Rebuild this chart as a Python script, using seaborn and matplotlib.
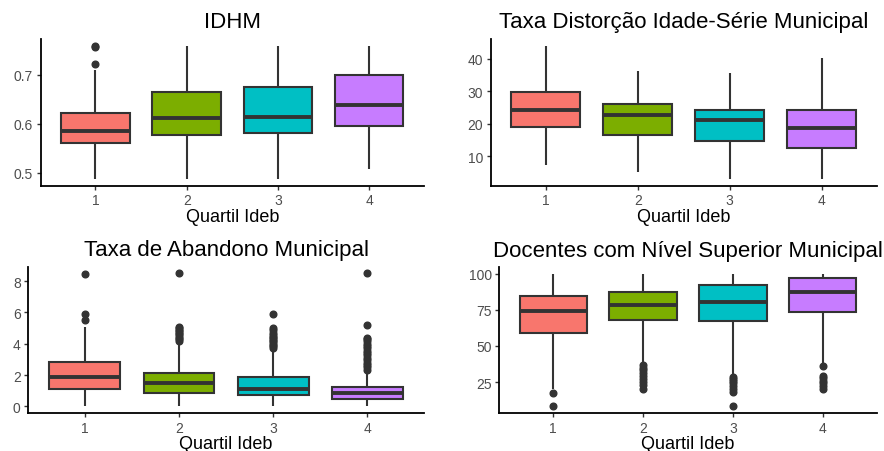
import numpy as np
import pandas as pd
import matplotlib
matplotlib.use('Agg')
import matplotlib.pyplot as plt
import seaborn as sns

sns.set_theme(style='white')
plt.rcParams['font.family'] = ['Liberation Sans', 'DejaVu Sans']

quartis = ['1', '2', '3', '4']
cores = ['#F8766D', '#7CAE00', '#00BFC4', '#C77CFF']

# IDHM
idhm_lo = [0.487, 0.487, 0.487, 0.507]
idhm_q1 = [0.560, 0.577, 0.582, 0.595]
idhm_med = [0.586, 0.611, 0.614, 0.639]
idhm_q3 = [0.623, 0.666, 0.676, 0.699]
idhm_hi = [0.711, 0.759, 0.759, 0.760]
idhm_out = [[0.722, 0.757, 0.760], [], [], []]

# Taxa Distorção Idade-Série
dist_lo = [7.2, 5.2, 2.9, 2.9]
dist_q1 = [18.9, 16.6, 14.8, 12.4]
dist_med = [24.1, 22.6, 21.1, 18.6]
dist_q3 = [29.9, 26.2, 24.2, 24.2]
dist_hi = [44.1, 36.3, 35.8, 40.2]
dist_out = [[], [], [], []]

# Taxa de Abandono
aban_lo = [0.0, 0.0, 0.0, 0.05]
aban_q1 = [1.08, 0.87, 0.70, 0.48]
aban_med = [1.90, 1.50, 1.12, 0.83]
aban_q3 = [2.82, 2.16, 1.89, 1.22]
aban_hi = [5.04, 4.05, 3.55, 2.25]
aban_out = [
    [5.5, 5.93, 8.49],
    [4.2, 4.3, 4.4, 4.5, 4.6, 4.7, 4.8, 4.9, 5.0, 5.1, 8.5],
    [3.75, 3.85, 3.95, 4.05, 4.15, 4.25, 4.35, 4.45, 4.55, 4.7, 4.85, 5.0, 5.9],
    [2.35, 2.5, 2.65, 2.8, 2.95, 3.1, 3.25, 3.4, 3.55, 3.7, 3.85, 4.0, 4.15,
     4.3, 4.4, 5.2, 8.5],
]

# Docentes com nível superior
doc_lo = [20.5, 38.5, 30.0, 38.0]
doc_q1 = [59.0, 67.9, 67.2, 73.4]
doc_med = [74.5, 78.2, 80.2, 87.7]
doc_q3 = [85.0, 87.7, 92.3, 97.3]
doc_hi = [100.0, 100.0, 100.0, 100.0]
doc_out = [
    [17.3, 8.1],
    [36.5, 35, 33, 31, 29, 27, 25, 23, 20.5],
    [28.4, 27, 25.5, 24, 22, 20, 18, 8.1],
    [35.9, 29.5, 28, 26, 24, 22, 20.5],
]


def montar(lo, q1, med, q3, hi, out, k=30):
    # rebuild a sample whose quartiles/whiskers match the read-off values
    linhas = []
    for i, q in enumerate(quartis):
        vals = [lo[i]] + [q1[i]] * k + [med[i]] * k + [q3[i]] * k + [hi[i]] + list(out[i])
        linhas += [(q, v) for v in vals]
    return pd.DataFrame(linhas, columns=['quartil', 'valor'])


paineis = [
    ('IDHM', montar(idhm_lo, idhm_q1, idhm_med, idhm_q3, idhm_hi, idhm_out),
     [0.5, 0.6, 0.7], (40.7, 424, 40, 186.7)),
    ('Taxa Distorção Idade-Série Municipal',
     montar(dist_lo, dist_q1, dist_med, dist_q3, dist_hi, dist_out),
     [10, 20, 30, 40], (490.7, 876.7, 40, 186.7)),
    ('Taxa de Abandono Municipal',
     montar(aban_lo, aban_q1, aban_med, aban_q3, aban_hi, aban_out),
     [0, 2, 4, 6, 8], (28.3, 424, 267.7, 414)),
    ('Docentes com Nível Superior Municipal',
     montar(doc_lo, doc_q1, doc_med, doc_q3, doc_hi, doc_out),
     [25, 50, 75, 100], (499.3, 876.7, 268.3, 414)),
]

W, H = 884, 452
fig = plt.figure(figsize=(W / 100, H / 100), dpi=100)

for titulo, df, yticks, (x0, x1, y0, y1) in paineis:
    ax = fig.add_axes([x0 / W, 1 - y1 / H, (x1 - x0) / W, (y1 - y0) / H])
    sns.boxplot(
        data=df, x='quartil', y='valor', hue='quartil', order=quartis,
        hue_order=quartis, palette=cores, saturation=1, width=0.75,
        linecolor='#333333', linewidth=1.5, showcaps=False, legend=False,
        flierprops=dict(marker='o', markerfacecolor='#333333',
                        markeredgecolor='#333333', markersize=4.8),
        medianprops=dict(linewidth=2.8, color='#333333'),
        ax=ax,
    )
    lo, hi = df['valor'].min(), df['valor'].max()
    m = 0.05 * (hi - lo)
    ax.set_ylim(lo - m, hi + m)
    ax.set_xlim(-0.6, 3.6)
    ax.set_yticks(yticks)
    ax.set_title(titulo, fontsize=16, color='black', pad=8.4)
    ax.set_xlabel('Quartil Ideb', fontsize=13, color='black', labelpad=0.5)
    ax.set_ylabel('')
    sns.despine(ax=ax)
    for s in ['left', 'bottom']:
        ax.spines[s].set_color('black')
        ax.spines[s].set_linewidth(1.3)
    ax.tick_params(axis='both', length=3, width=1, color='#333333',
                   labelsize=10, labelcolor='#4D4D4D', pad=2.5, bottom=True, left=True)

fig.savefig('out.png', dpi=100, facecolor='white')
